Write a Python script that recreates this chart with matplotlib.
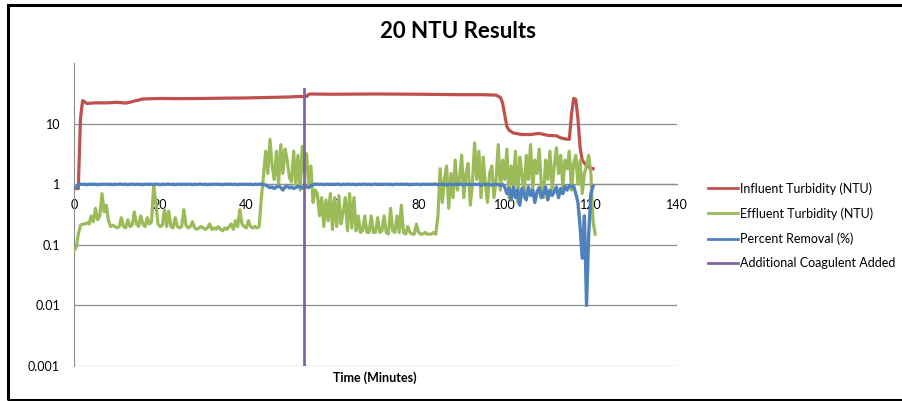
import matplotlib.pyplot as plt
import matplotlib.patches as patches
import numpy as np

plt.rcParams['font.family'] = ['Lato', 'DejaVu Sans']

# influent turbidity (NTU), irregular time points
inf_t = [0, 1, 1.5, 2, 3, 5, 8, 10, 12, 13, 14, 16, 20, 25, 30, 35, 40, 45, 50, 52, 53, 54,
         54.5, 55, 60, 70, 80, 90, 95, 98, 99, 99.5, 100, 100.5, 101, 102, 104, 106, 108, 110,
         112, 113, 114, 115, 115.5, 116, 116.5, 117, 117.5, 118, 119, 120, 120.5]
inf_v = [0.85, 0.85, 12, 24, 21.5, 22, 22, 22.5, 21.8, 22.5, 23.5, 25.5, 26, 25.8, 26, 26.3,
         26.5, 27, 27.5, 28, 28, 28, 30.5, 30.8, 30.5, 30.8, 30.5, 30, 30, 29.5, 27, 22, 14, 9,
         7.8, 7.0, 6.6, 6.6, 6.9, 6.4, 6.3, 5.8, 5.6, 5.5, 14, 26, 25, 12, 4, 2.5, 2.0, 1.85, 1.8]

# effluent turbidity (NTU), every 0.5 min
eff_v = [0.08, 0.09, 0.15, 0.21, 0.22,
         0.22, 0.23, 0.22, 0.3, 0.24, 0.4, 0.26, 0.3, 0.7, 0.35, 0.45, 0.25, 0.2, 0.21, 0.2, 0.19,
         0.2, 0.28, 0.2, 0.19, 0.26, 0.2, 0.21, 0.35, 0.22, 0.2, 0.3, 0.22, 0.2, 0.28, 0.22, 0.24,
         0.95, 0.5, 0.22, 0.2,
         0.21, 0.38, 0.2, 0.36, 0.2, 0.19, 0.28, 0.2, 0.19, 0.2, 0.38, 0.21, 0.19, 0.2, 0.24, 0.19,
         0.18, 0.19, 0.2, 0.19,
         0.18, 0.19, 0.22, 0.18, 0.19, 0.18, 0.2, 0.18, 0.17, 0.19, 0.18, 0.2, 0.22, 0.18, 0.25,
         0.2, 0.38, 0.22, 0.2, 0.19,
         0.25, 0.2, 0.19, 0.2, 0.19, 0.2,
         0.6, 1.4, 3.5, 1.5, 5.5, 2.0, 1.2, 3.5, 1.0, 4.5, 1.5, 3.8, 2.5, 1.3,
         1.1, 3.5, 1.0, 3.0, 0.8, 4.2, 1.5, 3.2, 0.9, 2.0, 0.5, 0.8,
         0.7, 0.3, 0.6, 0.2, 0.55, 0.25, 0.7, 0.18, 0.6, 0.2, 0.65, 0.22, 0.35, 0.6, 0.17, 0.7,
         0.19, 0.6, 0.17, 0.3,
         0.16, 0.17, 0.3, 0.16, 0.16, 0.3, 0.16, 0.16, 0.28, 0.16, 0.17, 0.3, 0.16, 0.15, 0.4,
         0.17, 0.16, 0.3, 0.16, 0.45, 0.16, 0.15, 0.2, 0.16, 0.15, 0.15, 0.22, 0.16, 0.15, 0.15,
         0.16, 0.15, 0.15, 0.15, 0.16, 0.15,
         0.3, 1.8, 0.5, 1.2, 2.0, 0.4, 1.5, 0.6, 2.5, 0.8, 1.2, 3.0, 0.6, 1.5, 2.2, 0.45, 1.0,
         4.8, 1.2, 3.5, 0.6, 2.8, 1.0, 0.5, 1.5, 2.0,
         0.6, 1.2, 4.5, 0.8, 2.5, 1.2, 3.8, 0.6, 2.0, 1.0, 3.5, 0.5, 2.8, 1.5, 0.6, 3.0, 1.2, 4.5,
         0.8, 2.5, 1.5, 3.8, 1.0, 0.6, 2.5, 1.2,
         3.5, 0.8, 2.0, 4.0, 1.5, 3.0, 0.9, 2.5, 1.8, 3.5, 0.8, 2.2, 3.0, 1.0, 2.5, 0.7, 1.5, 2.0,
         3.0, 1.5, 0.25, 0.15]

# percent removal (fraction), every 0.5 min
rem_v = [0.85, 0.88, 0.98,
         1.0, 0.99, 1.0, 0.98, 1.0, 1.0, 0.99, 1.0, 0.98, 1.0, 0.99, 1.0, 1.0, 0.99, 1.0, 0.98,
         1.0, 0.99, 1.0, 1.0, 0.99, 1.0, 0.98, 1.0, 1.0, 0.99, 1.0, 0.99, 1.0, 0.98, 1.0, 1.0,
         0.99, 1.0, 0.99, 1.0, 1.0, 0.98, 1.0, 0.99, 1.0, 1.0, 0.99, 1.0, 0.98, 1.0, 1.0, 0.99,
         1.0, 0.99, 1.0, 1.0, 0.98, 1.0, 0.99, 1.0, 1.0, 0.99, 1.0, 0.98, 1.0, 0.99, 1.0, 1.0,
         0.99, 1.0, 0.98, 1.0, 0.99, 1.0, 1.0, 0.99, 1.0, 0.98, 1.0, 0.99, 1.0, 1.0, 0.99, 1.0,
         0.98, 1.0, 0.99, 1.0, 1.0, 0.98, 0.97,
         0.92, 0.88, 0.9, 0.85, 0.9, 0.93, 0.88, 0.8, 0.9, 0.92, 0.87, 0.9, 0.85, 0.88, 0.92, 0.9,
         0.86, 0.93, 0.9, 0.88, 0.95, 0.98, 1.0,
         1.0, 0.99, 1.0, 0.98, 1.0, 1.0, 0.99, 1.0, 0.99, 1.0, 1.0, 0.98, 1.0, 0.99, 1.0, 1.0,
         0.99, 1.0, 0.98, 1.0, 0.99, 1.0, 1.0, 0.99, 1.0, 0.98, 1.0, 1.0, 0.99, 1.0, 0.99, 1.0,
         1.0, 0.99, 1.0, 0.98, 1.0, 1.0, 0.99, 1.0, 0.99, 1.0, 1.0, 0.98, 1.0, 0.99, 1.0, 1.0,
         0.98, 1.0, 1.0, 0.99, 1.0, 0.99, 1.0, 1.0, 0.98, 1.0, 0.99, 1.0, 0.97, 0.99, 1.0, 0.98,
         1.0, 0.99, 1.0, 1.0, 0.96, 1.0, 0.99, 1.0, 0.98, 1.0, 0.99, 1.0, 0.95, 1.0, 0.99, 1.0,
         0.98, 0.97, 0.99, 1.0, 0.98, 0.95, 0.99,
         0.9, 0.7, 0.85, 0.55, 0.9, 0.6, 0.8, 0.45, 0.85, 0.7, 0.55, 0.9, 0.65, 0.8, 0.5, 0.75,
         0.88, 0.6, 0.7, 0.9, 0.55, 0.8, 0.65, 0.75, 0.9, 0.6, 0.85, 0.7, 0.92, 0.8, 0.95, 0.9,
         0.93, 0.7, 0.5,
         0.2, 0.06, 0.3, 0.01, 0.15, 0.7, 0.92]

coag_t = [53.3, 53.3]
coag_v = [0.001, 37]

labels = ['Influent Turbidity (NTU)', 'Effluent Turbidity (NTU)',
          'Percent Removal (%)', 'Additional Coagulent Added']
colors = ['#C0504D', '#9BBB59', '#4F81BD', '#8064A2']

eff_t = np.arange(len(eff_v)) * 0.5
rem_t = np.arange(len(rem_v)) * 0.5

fig = plt.figure(figsize=(9.02, 4.01), dpi=100)
ax = fig.add_axes([74 / 902, 1 - 366 / 401, 603 / 902, 303 / 401])

ax.plot(inf_t, inf_v, color=colors[0], lw=2.3, label=labels[0], zorder=3)
ax.plot(eff_t, eff_v, color=colors[1], lw=2.3, label=labels[1], zorder=3)
ax.plot(rem_t, rem_v, color=colors[2], lw=2.4, label=labels[2], zorder=3)
ax.plot(coag_t, coag_v, color=colors[3], lw=2.0, label=labels[3], zorder=3)

ax.set_yscale('log')
ax.set_ylim(0.001, 100)
ax.set_xlim(0, 140)
ax.set_yticks([0.001, 0.01, 0.1, 1, 10])
ax.set_yticklabels(['0.001', '0.01', '0.1', '1', '10'])
ax.minorticks_off()
ax.set_xticks(range(0, 141, 20))
ax.grid(axis='y', color='#8c8c8c', lw=0.9)
ax.set_axisbelow(True)

for s in ['top', 'right']:
    ax.spines[s].set_visible(False)
ax.spines['left'].set_color('#8c8c8c')
ax.spines['bottom'].set_position(('data', 1))
ax.spines['bottom'].set_color('#8c8c8c')
ax.spines['bottom'].set_linewidth(0.9)
ax.spines['bottom'].set_zorder(1)
ax.tick_params(axis='both', length=0, labelsize=9)
ax.tick_params(axis='x', pad=11)
ax.tick_params(axis='y', pad=10)

fig.text(375 / 902, 1 - 378 / 401, 'Time (Minutes)', ha='center', va='center',
         fontsize=9, fontweight='bold')
fig.text(458 / 902, 1 - 32 / 401, '20 NTU Results', ha='center', va='center',
         fontsize=16, fontweight='bold')

leg = fig.legend(loc='upper left', bbox_to_anchor=(697 / 902, 1 - 171 / 401), frameon=False,
                 fontsize=9, handlelength=2.4, handletextpad=0.15, labelspacing=1.0)
for h in leg.get_lines():
    h.set_linewidth(2.0)

fig.patches.append(patches.Rectangle((8 / 902, 1 / 401), 900 / 902, 395 / 401,
                                     transform=fig.transFigure, fill=False,
                                     edgecolor='black', lw=2.2))

fig.savefig('out.png', dpi=100)
